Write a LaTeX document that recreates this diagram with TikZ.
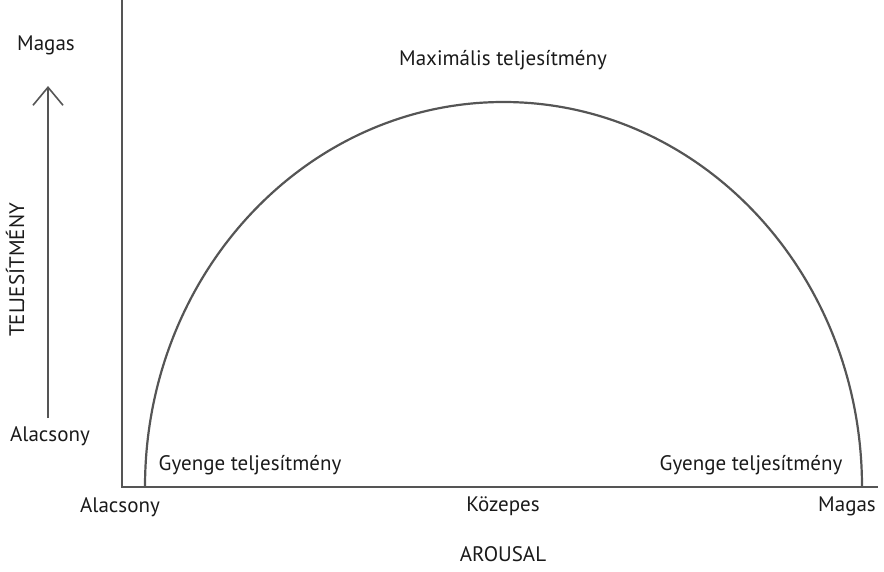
\documentclass[tikz,border=0pt]{standalone}
\usepackage{fontspec}
\setmainfont{PT Sans}
\usetikzlibrary{arrows.meta}
\definecolor{axisgray}{HTML}{555555}
\definecolor{txt}{HTML}{1A1A1A}
\tikzset{
  axis/.style={draw=axisgray, line width=2pt},
  curve/.style={draw=axisgray, line width=2.2pt},
  lbl/.style={text=txt, font=\fontsize{21}{24}\selectfont, inner sep=0pt},
}
\begin{document}
\begin{tikzpicture}[x=1pt,y=-1pt]
\useasboundingbox (0,0) rectangle (884,571);
% axes
\coordinate (ytop) at (122,0);
\coordinate (origin) at (122,487);
\coordinate (xend) at (878,487);
\draw[axis] (ytop) -- (origin) -- (xend);
% performance curve
\coordinate (cl) at (145,487);
\draw[curve] (cl) arc[start angle=180, end angle=0, x radius=358.5, y radius=-385] coordinate (cr);
% vertical arrow
\coordinate (abot) at (48,418);
\coordinate (atop) at (48,86);
\draw[draw=axisgray, line width=1.6pt, -{Straight Barb[length=18pt,width=30pt,line width=1.6pt]}] (abot) -- (atop);
% labels
\node[lbl] (ymag) at (46,45) {Magas};
\node[lbl] (yalc) at (50,436) {Alacsony};
\node[lbl, rotate=90] (yname) at (15,270) {TELJESÍTMÉNY};
\node[lbl] (xalc) at (120,507) {Alacsony};
\node[lbl] (xkoz) at (503,506) {Közepes};
\node[lbl] (xmag) at (847,506) {Magas};
\node[lbl] (xname) at (503,554) {AROUSAL};
\node[lbl] (gl) at (250,465) {Gyenge teljesítmény};
\node[lbl] (gr) at (751,465) {Gyenge teljesítmény};
\node[lbl] (mx) at (503,60) {Maximális teljesítmény};
\end{tikzpicture}
\end{document}
